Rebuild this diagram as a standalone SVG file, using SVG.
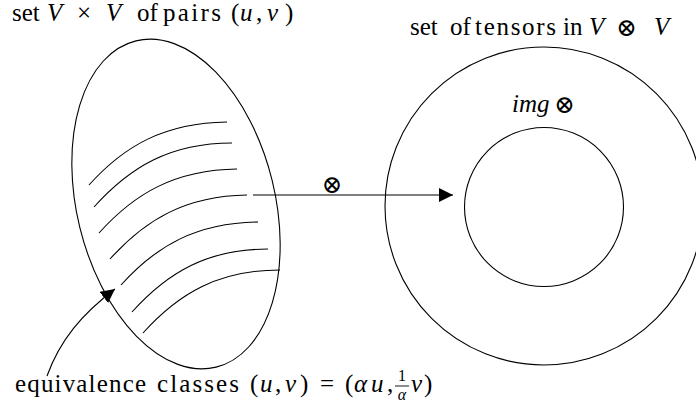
<svg xmlns="http://www.w3.org/2000/svg" width="696" height="416" viewBox="0 0 696 416">
<style>
.ln{fill:none;stroke:#000;stroke-width:1.1}
.t{font-family:"Liberation Serif","Times New Roman",serif;font-size:25px;fill:#000}
.i{font-style:italic}
.op{font-family:"DejaVu Sans","DejaVu Serif",sans-serif;font-size:25px;font-style:normal;font-weight:200}
.fr{font-size:16px}
</style>
<defs>
<marker id="ah" viewBox="0 0 14 14" refX="14" refY="7" markerWidth="14" markerHeight="14" markerUnits="userSpaceOnUse" orient="auto">
<path d="M0,0 L14,7 L0,14 Z" fill="#000"/>
</marker>
</defs>
<rect width="696" height="416" fill="#fff"/>
<g id="pairs">
<ellipse class="ln" cx="176" cy="204" rx="99" ry="168" transform="rotate(-13.8 176 204)"/>
<path class="ln" d="M89,185 C125,145 165,123 227,122"/>
<path class="ln" d="M94,207 C130,167 170,143 232,143"/>
<path class="ln" d="M99,233 C135,193 175,170 237,169"/>
<path class="ln" d="M110,259 C146,219 186,196 247,195"/>
<path class="ln" d="M121,285 C157,245 197,223 258,222"/>
<path class="ln" d="M132,312 C168,272 208,249 268,249"/>
<path class="ln" d="M143,333 C179,293 219,270 280,270"/>
<text class="t" y="21"><tspan x="12">set</tspan><tspan class="i" x="47">V</tspan><tspan x="77">×</tspan><tspan class="i" x="106">V</tspan><tspan x="137">of</tspan><tspan x="163" textLength="58">pairs</tspan><tspan x="231">(</tspan><tspan class="i" x="240">u</tspan><tspan x="256">,</tspan><tspan class="i" x="267">v</tspan><tspan x="285">)</tspan></text>
</g>
<g id="tensors">
<circle class="ln" cx="544" cy="206" r="159"/>
<text class="t" y="35"><tspan x="410">set</tspan><tspan x="450">of</tspan><tspan x="475" textLength="81">tensors</tspan><tspan x="563">in</tspan><tspan class="i" x="589">V</tspan><tspan class="op" x="616" y="36">⊗</tspan><tspan class="i" x="654" y="35">V</tspan></text>
</g>
<g id="image">
<circle class="ln" cx="544" cy="207" r="79.5"/>
<text class="t" y="112"><tspan class="i" x="512">img</tspan><tspan class="op" x="554" y="113">⊗</tspan></text>
</g>
<g id="label">
<text class="t" y="392"><tspan x="15" textLength="131">equivalence</tspan><tspan x="157" textLength="82">classes</tspan><tspan x="250">(</tspan><tspan class="i" x="260">u</tspan><tspan x="275">,</tspan><tspan class="i" x="285">v</tspan><tspan x="300">)</tspan><tspan x="320">=</tspan><tspan x="345">(</tspan><tspan class="i" x="354">α</tspan><tspan class="i" x="371">u</tspan><tspan x="387">,</tspan></text>
<text class="t fr" x="402" y="381" text-anchor="middle">1</text>
<line x1="395" y1="386" x2="409" y2="386" stroke="#000" stroke-width="0.9"/>
<text class="t fr i" x="402" y="400" text-anchor="middle">α</text>
<text class="t" y="392"><tspan class="i" x="411">v</tspan><tspan x="424">)</tspan></text>
</g>
<g id="connectors">
<line class="ln" x1="253" y1="195" x2="453" y2="195" marker-end="url(#ah)"/>
<text class="t op" x="332" y="193" text-anchor="middle">⊗</text>
<path class="ln" d="M47,376 C60,340 82,314 115,289" marker-end="url(#ah)"/>
</g>
</svg>
